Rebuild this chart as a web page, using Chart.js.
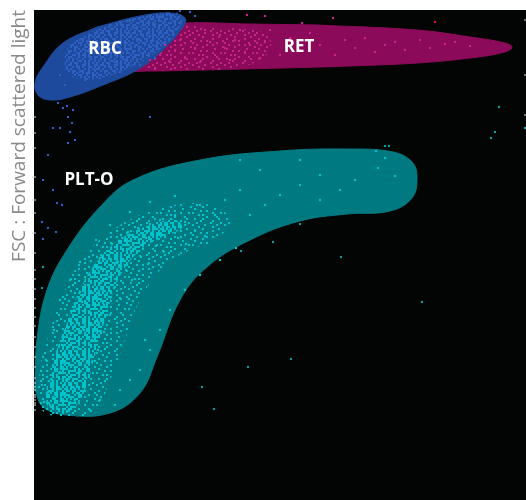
<!DOCTYPE html>
<html>
<head>
<meta charset="utf-8">
<script src="https://cdn.jsdelivr.net/npm/chart.js@4"></script>
<style>
  body { margin: 0; background: #fff; }
  #chart { display: block; }
</style>
</head>
<body>
<canvas id="chart" width="526" height="500"></canvas>
<script>
// SFL (x) 0..246, FSC (y) 0..245, arbitrary channel units

// gate outlines
const retRegion = [[141.5,237.5],[191.5,235],[218,231.5],[235.5,228.5],[239,226.5],[235.5,224],[218,221],[191.5,218.5],[158,217],[124.5,216],[83,215],[58,214.5],[45.5,215],[40.5,219],[43,225],[58,236],[74.5,238.5],[108,238],[141.5,237.5]];
const retCore = [[85,236],[110,235],[118,231],[116,222],[100,216],[75,215],[55,217],[63,231],[75,237],[85,236]];
const rbcRegion = [[31.5,236.5],[53,242],[68,243.5],[75.5,241],[74.5,236.5],[64.5,225],[51.5,215],[34.5,207.5],[18,201.5],[8,200],[2,202.5],[0.5,208.5],[4.5,216.5],[14.5,228.5],[31.5,236.5]];
const rbcCore = [[33,236],[53,241.5],[72,243.5],[74,239],[65.5,227.5],[50.5,217.5],[33,211],[20.5,211],[15.5,217.5],[18,227.5],[33,236]];
const pltRegion = [[0.5,55],[1.5,80],[6.5,105],[16.5,125],[33,146.5],[49.5,160],[83,170],[123,174.5],[156.5,175.5],[179.5,174],[189,169],[191.5,161.5],[189,151],[178,144.5],[156.5,143],[133,139.5],[108,130],[86.5,116.5],[73,100],[61.5,71.5],[53,53.5],[38,43.5],[16.5,42.5],[4.5,46.5],[0.5,55]];
const pltOuter = [[8,85],[15.5,105],[25.5,122.5],[38,134],[53,142.5],[70.5,147.5],[88,147.5],[98,140],[90.5,130],[78,125],[65.5,117.5],[53,100],[45.5,80],[38,60],[30.5,44],[18,42],[4,45],[3,65],[8,85]];
const pltCore = [[17,90],[24,107.5],[33,121],[44,131],[58,137.5],[70.5,140],[74,136],[63,131],[52,124],[42,110],[35.5,90],[30.5,72.5],[25.5,55],[19,45],[11,43],[7,46],[6.5,57.5],[10.5,72.5],[17,90]];

// events
const retEvents = [[58,220],[63,222.5],[65.5,227.5],[68,219],[70.5,225],[73,230],[75.5,221],[78,232.5],[80.5,226],[83,219],[85.5,235],[88,229],[90.5,222.5],[93,232.5],[95.5,226],[98,220],[100.5,230],[103,235],[105.5,224],[108,227.5],[110.5,232.5],[113,221],[115.5,229],[118,235],[123,222.5],[128,231],[133,225],[138,233.5],[143,227.5],[150.5,222.5],[155.5,230],[160.5,226],[165.5,231],[170.5,224],[175.5,227.5],[180.5,229],[185.5,225],[193,230],[198,226],[205.5,228],[210.5,229],[218,227],[53,217.5],[60.5,216],[70.5,216],[134,238.5],[106.5,242.5],[115.5,242],[149.5,241]];
const rbcEvents = [[23,230],[28,232.5],[33,235],[38,237.5],[43,239],[48,240],[53,241],[58,241.5],[63,242],[68,242.5],[72,241],[25.5,225],[30.5,227.5],[35.5,230],[40.5,232.5],[45.5,234],[50.5,236],[55.5,237.5],[60.5,238],[65.5,239],[70.5,237.5],[28,220],[33,222.5],[43,226],[48,227.5],[53,230],[58,232],[63,234],[68,235],[30.5,215],[35.5,217],[40.5,219],[45.5,220],[50.5,222.5],[55.5,224],[60.5,227],[65.5,229],[20.5,222.5],[18,217.5],[23,214],[13,212.5],[15.5,207.5],[25.5,210],[33,211],[43,214],[53,217.5],[60.5,221],[78,244],[80.5,242],[73,244.5],[16.5,197],[19.5,195],[17,191.5],[19,188.5],[13,186],[9.5,186],[18,184],[17,178.5],[20.5,180],[58,191.5],[7,172.5],[4.5,160],[9.5,155],[11.5,148.5],[14,147.5],[4,139],[7,136],[11,134],[4.5,130.5],[12,198.5],[14.5,196]];
const pltEvents = [[8,47.5],[10.5,51],[7,54],[12,56],[14.5,52.5],[18,49],[9,60],[13,64],[16,60],[20,56],[11.5,69],[15.5,72.5],[19,67.5],[23,64],[26,61],[14,77.5],[18,81],[22,76],[25.5,72],[29,69],[17,86],[21,90],[25,85],[29,80],[32,75],[20,95],[24,99],[28,94],[32,89],[35,84],[23,104],[27,107.5],[31,102.5],[35,97.5],[38,92.5],[28,112.5],[32,116],[36,111],[40,106],[43,101],[33,121],[38,124],[42,119],[46,115],[49,110],[39,128],[44,131],[48,126],[53,122],[57,118],[47,134],[52,136],[56,131],[61,127],[65,124],[58,138],[63,140],[68,135],[72,131],[76,128],[70.5,142.5],[75.5,139],[80.5,135],[85.5,132],[5,49],[4,57.5],[6,70],[10,85],[13,100],[18,110],[23,119],[31,130],[38,137.5],[48,144],[58,149],[70.5,152],[83,147.5],[90.5,142.5],[95.5,150],[103,155],[108,142.5],[115.5,147.5],[123,152.5],[133,157.5],[143,162.5],[101,126],[93,120],[83,112.5],[75.5,105],[68,95],[63,85],[58,75],[53,65],[43,55],[33,50],[28,45],[40.5,47.5],[48,60],[55.5,80],[143,150],[160.5,160],[171,174.5],[172,166],[175.5,171],[180.5,162],[153,155],[113,165],[103,170],[133,170]];
const strayEvents = [[133,138],[153.5,121.5],[194,99],[128.5,70.5],[107,66.5],[84,56.5],[90,45.5],[103.5,124.5],[119.5,129],[175.5,177],[177.5,177],[228.5,181],[230.5,184],[232.5,196.5],[4.5,116.5],[4,106],[245.5,186]];
const redEvents = [[200.5,239]];
const edgeEvents = [[0,191.5],[0,183.5],[0,176],[0,161.5],[0,150],[0,143.5],[0,133.5],[0,123.5],[0,115],[0,110.5],[0,105.5],[0,100.5],[0,96],[0,91.5],[0,87],[0,81.5],[0,76.5],[0,71.5],[0,66.5],[0,61],[0,58.5],[0,56.5],[0,55],[0,52.5],[0,51.5],[0,50],[0,48.5],[0,47.5],[0,45],[246,240],[246,212.5],[246,192.5]];

const regionNames = ['RBC', 'RET', 'PLT-O'];
const regionLabelX = [35.5, 132.5, 27.5];
const regionLabelY = [225.5, 226.5, 160];

// dither masks for the dense event clouds
const denseMask = [
  '#.##..#..##.#..#',
  '.#..#.##.#..##.#',
  '##.#...#..#.#.#.',
  '..#.##..##..#..#',
  '#...#.#..#.##.#.',
  '.##..#.##..#..##',
  '#..##...#.#.#.#.',
  '.#.#.##...##..#.',
  '##...#.#.#..#.##',
  '..##.#..#..##..#',
  '#.#...##..#..#.#',
  '.#..##.#.##.#...',
  '#.##...#..#.##.#',
  '..#.#.#..#...#.#',
  '.#..#..##.#.#..#',
  '#..#.##...#.#.#.'
];
const sparseMask = [
  '#.....#.....#...',
  '...#......#.....',
  '.....#.......#..',
  '.#........#.....',
  '....#..#.......#',
  '#...........#...',
  '..#....#..#.....',
  '.....#.........#',
  '.#.........#....',
  '....#..#........',
  '#.........#...#.',
  '...#.#..........',
  '.......#....#...',
  '.#...#.......#..',
  '....#.....#.....',
  '..#......#....#.'
];

function speckle(mask, color) {
  const cell = 2;
  const c = document.createElement('canvas');
  c.width = mask[0].length * cell;
  c.height = mask.length * cell;
  const g = c.getContext('2d');
  g.fillStyle = color;
  mask.forEach((row, r) => {
    [...row].forEach((ch, k) => {
      if (ch === '#') g.fillRect(k * cell, r * cell, cell, cell);
    });
  });
  return g.createPattern(c, 'repeat');
}

function region(data, color, order, border) {
  return {
    data: data,
    showLine: true,
    fill: 'shape',
    backgroundColor: color,
    borderColor: border || color,
    borderWidth: 1,
    tension: 0.4,
    pointRadius: 0,
    order: order
  };
}

function events(data, color, order) {
  return {
    data: data,
    pointStyle: 'rect',
    pointRadius: 1.5,
    pointBorderWidth: 0,
    pointBackgroundColor: color,
    order: order
  };
}

const plotBackground = {
  id: 'plotBackground',
  beforeDraw(chart) {
    const { ctx, chartArea } = chart;
    ctx.save();
    ctx.fillStyle = '#030505';
    ctx.fillRect(chartArea.left, chartArea.top, chartArea.right - chartArea.left, chartArea.bottom - chartArea.top);
    ctx.restore();
  }
};

const regionLabels = {
  id: 'regionLabels',
  afterDatasetsDraw(chart) {
    const { ctx, scales } = chart;
    ctx.save();
    ctx.font = 'bold 17px "Open Sans"';
    ctx.fillStyle = '#ffffff';
    ctx.textAlign = 'center';
    ctx.textBaseline = 'middle';
    regionNames.forEach((name, i) => {
      ctx.fillText(name, scales.x.getPixelForValue(regionLabelX[i]), scales.y.getPixelForValue(regionLabelY[i]));
    });
    ctx.restore();
  }
};

const clear = 'rgba(0,0,0,0)';

new Chart(document.getElementById('chart'), {
  type: 'scatter',
  data: {
    datasets: [
      region(retRegion, '#8c0a5a', 20),
      region(retCore, speckle(sparseMask, '#c42388'), 19, clear),
      region(rbcRegion, '#1d4a9c', 18),
      region(rbcCore, speckle(denseMask, '#2d60c2'), 17, clear),
      region(pltRegion, '#007a80', 16),
      region(pltOuter, speckle(sparseMask, '#00c2ca'), 15.5, clear),
      region(pltCore, speckle(denseMask, '#00c2ca'), 15, clear),
      events(retEvents, '#c8238e', 6),
      events(rbcEvents, '#2d5fc4', 5),
      events(pltEvents, '#00c4cc', 4),
      events(strayEvents, '#0a9aa0', 3),
      events(redEvents, '#d01a2a', 2),
      {
        data: edgeEvents,
        pointStyle: 'line',
        pointRadius: 2,
        pointBorderWidth: 1,
        pointBorderColor: '#d8d8d8',
        clip: false,
        order: 1
      }
    ]
  },
  options: {
    responsive: false,
    animation: false,
    layout: { autoPadding: false, padding: { top: 10, left: 0, right: 0, bottom: 0 } },
    scales: {
      x: { type: 'linear', min: 0, max: 246, display: false },
      y: {
        type: 'linear',
        min: 0,
        max: 245,
        grid: { display: false },
        border: { display: false },
        ticks: { display: false },
        title: {
          display: true,
          text: 'FSC : Forward scattered light',
          align: 'end',
          color: '#8a8a8a',
          font: { family: 'Open Sans', size: 19 },
          padding: { top: 8, bottom: 0 }
        },
        afterFit(scale) { scale.width = 34; }
      }
    },
    plugins: {
      legend: { display: false },
      tooltip: { enabled: false }
    }
  },
  plugins: [plotBackground, regionLabels]
});
</script>
</body>
</html>
